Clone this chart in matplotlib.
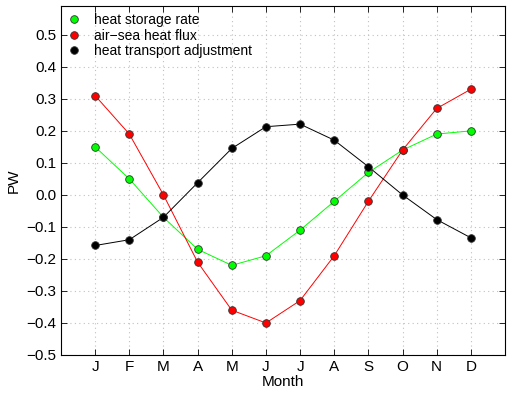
import matplotlib
matplotlib.use('Agg')
import matplotlib.pyplot as plt
import numpy as np

plt.rcParams['font.family'] = ['Liberation Sans', 'DejaVu Sans']

months = ['J', 'F', 'M', 'A', 'M', 'J', 'J', 'A', 'S', 'O', 'N', 'D']
storage = [0.15, 0.05, -0.07, -0.17, -0.22, -0.19, -0.11, -0.02, 0.07, 0.14, 0.19, 0.20]
airsea = [0.31, 0.19, 0.00, -0.21, -0.36, -0.40, -0.33, -0.19, -0.02, 0.14, 0.27, 0.33]
transport = [-0.158, -0.14, -0.07, 0.038, 0.145, 0.213, 0.221, 0.171, 0.088, 0.0, -0.077, -0.134]

x = np.arange(1, 13)

fig = plt.figure(figsize=(5.1, 3.96), dpi=100)
ax = fig.add_axes([61/510, 1-355/396, 444/510, 349/396])

series = [(storage, '#00ff00', 'heat storage rate'),
          (airsea, '#ff0000', 'air\u2212sea heat flux'),
          (transport, 'black', 'heat transport adjustment')]

for vals, c, lab in series:
    ax.plot(x, vals, color=c, lw=0.7, zorder=2)
for vals, c, lab in series:
    ax.plot(x, vals, ls='none', marker='o', ms=5.5, mfc=c, mec='#333333', mew=0.6,
            label=lab, zorder=3)

ax.set_xlim(0, 13)
ax.set_ylim(-0.5, 0.59)
ax.set_xticks(x)
ax.set_xticklabels(months)
ax.set_yticks(np.round(np.arange(-0.5, 0.51, 0.1), 1))
ax.tick_params(direction='in', top=True, right=True, labelsize=11, length=4, width=0.6)
ax.grid(True, ls=(0, (1, 3)), color='#c0c0c0', lw=0.8)
for s in ax.spines.values():
    s.set_linewidth(0.8)

ax.set_xlabel('Month', fontsize=11, labelpad=1)
ax.set_ylabel('PW', fontsize=11)

ax.legend(loc='upper left', frameon=False, fontsize=10, handletextpad=0.9,
          borderaxespad=0.2, labelspacing=0.1, handlelength=1.0,
          bbox_to_anchor=(-0.005, 1.003))

fig.savefig('out.png', dpi=100)
